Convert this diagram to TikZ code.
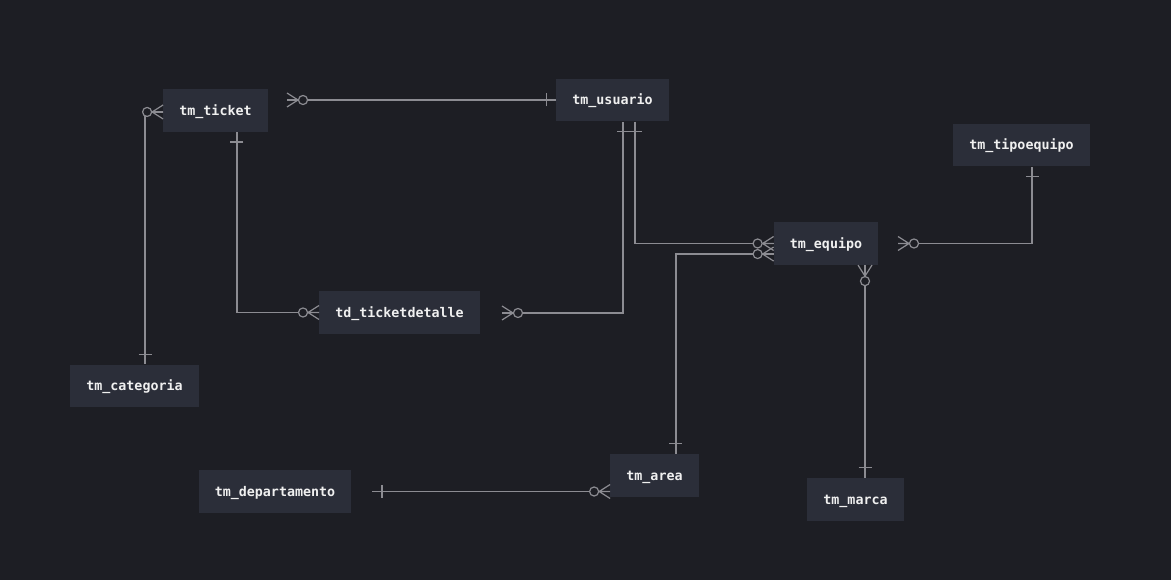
\documentclass[tikz,border=0pt]{standalone}
\usepackage{fontspec}
\setmonofont{DejaVu Sans Mono}
\usetikzlibrary{positioning}
\definecolor{bgc}{RGB}{29,30,36}
\definecolor{boxc}{RGB}{43,46,57}
\definecolor{linec}{RGB}{140,140,146}
\definecolor{textc}{RGB}{240,240,240}
\tikzset{
  zeromany/.pic={
    \draw[linec,line width=0.9pt] (0,-7) -- (11,0) -- (0,7) (0,0) -- (12,0);
    \draw[linec,line width=0.9pt,fill=bgc] (16,0) circle[radius=3.4pt];
  },
  onebar/.pic={
    \draw[linec,line width=0.9pt] (10,-6.5) -- (10,6.5);
  }
}
\begin{document}
\begin{tikzpicture}
	[x=0.75pt,y=-0.75pt,
	 entity/.style={shape=rectangle,fill=boxc,text=textc,inner xsep=12pt,minimum height=32pt,
	   text height=9pt,text depth=1.6pt,
	   font=\ttfamily\bfseries\fontsize{10}{12}\selectfont},
	 rel/.style={draw=linec,line width=0.9pt}]
	\fill[bgc] (0,0) rectangle (1171,580);
	\useasboundingbox (0,0) rectangle (1171,580);
	
	\node [entity] (ticket) at (215.5,110.5) {tm\_ticket};
	\node [entity] (usuario) at (612.5,100) {tm\_usuario};
	\node [entity] (tipo) at (1021.5,145) {tm\_tipoequipo};
	\node [entity] (equipo) at (826,243.5) {tm\_equipo};
	\node [entity] (detalle) at (399.5,312.5) {td\_ticketdetalle};
	\node [entity] (categoria) at (134.5,386) {tm\_categoria};
	\node [entity] (depto) at (275,491.5) {tm\_departamento};
	\node [entity] (area) at (654.5,475.5) {tm\_area};
	\node [entity] (marca) at (855.5,499.5) {tm\_marca};
	
	% free ends of the connectors
	\coordinate (tkr) at (287,100);
	\coordinate (dtr) at (502,313);
	\coordinate (eqr) at (898,243.5);
	\coordinate (dpr) at (372,491.5);
	
	\path[rel]
	(tkr) -- (usuario.west)
	([yshift=-1.1pt]ticket.west) -| ([xshift=7.9pt]categoria.north)
	([xshift=16.1pt]ticket.south) |- (detalle.west)
	(dtr) -| ([xshift=7.9pt]usuario.south)
	([xshift=16.9pt]usuario.south) |- (equipo.west)
	([xshift=16.1pt]area.north) |- ([yshift=-7.9pt]equipo.west)
	(eqr) -| ([xshift=7.9pt]tipo.south)
	([xshift=29.25pt]equipo.south) -- ([xshift=29.25pt]equipo.south |- marca.north)
	(dpr) -- (dpr -| area.west)
	;
	
	% ends
	\pic at (tkr) {zeromany};
	\pic [rotate=180] at (usuario.west) {onebar};
	\pic [rotate=180] at ([yshift=-1.1pt]ticket.west) {zeromany};
	\pic [rotate=90] at ([xshift=7.9pt]categoria.north) {onebar};
	\pic [rotate=-90] at ([xshift=16.1pt]ticket.south) {onebar};
	\pic [rotate=180] at (detalle.west) {zeromany};
	\pic at (dtr) {zeromany};
	\pic [rotate=-90] at ([xshift=7.9pt]usuario.south) {onebar};
	\pic [rotate=-90] at ([xshift=16.9pt]usuario.south) {onebar};
	\pic [rotate=180] at (equipo.west) {zeromany};
	\pic [rotate=90] at ([xshift=16.1pt]area.north) {onebar};
	\pic [rotate=180] at ([yshift=-7.9pt]equipo.west) {zeromany};
	\pic at (eqr) {zeromany};
	\pic [rotate=-90] at ([xshift=7.9pt]tipo.south) {onebar};
	\pic [rotate=-90] at ([xshift=29.25pt]equipo.south) {zeromany};
	\pic [rotate=90] at ([xshift=29.25pt]equipo.south |- marca.north) {onebar};
	\pic at (dpr) {onebar};
	\pic [rotate=180] at (dpr -| area.west) {zeromany};
	
\end{tikzpicture}
\end{document}
